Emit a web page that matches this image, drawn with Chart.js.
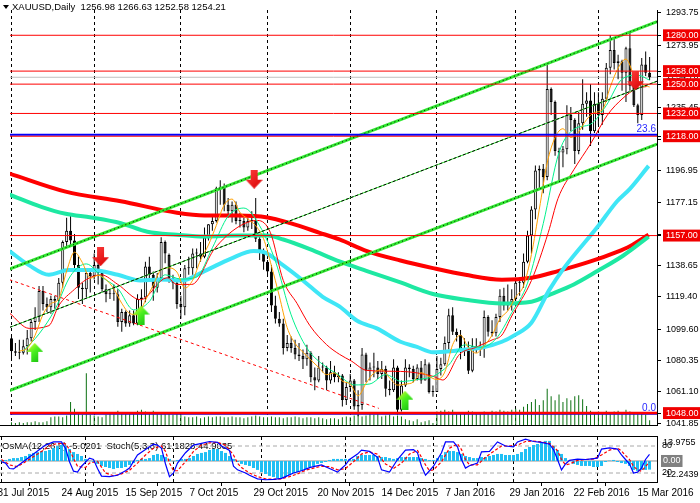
<!DOCTYPE html>
<html>
<head>
<meta charset="utf-8">
<script src="https://cdn.jsdelivr.net/npm/chart.js@4.4.1/dist/chart.umd.min.js"></script>
<style>
html, body { margin: 0; padding: 0; background: #fff; overflow: hidden; }
#wrap { position: relative; width: 700px; height: 503px; }
#main { position: absolute; left: 0; top: 0; }
#osc { position: absolute; left: 0; top: 435px; }
</style>
</head>
<body>
<div id="wrap">
  <canvas id="main" width="700" height="435"></canvas>
  <canvas id="osc" width="700" height="68"></canvas>
</div>
<script>
// --- Data (daily bars, index 0 = 3 Aug 2015) ---
const opens = [
  1094,1086,1085,1085,1089,1094,1104,1107,1123,1115, 1113,1118,1117,1128,1153,1160,1154,1139,1125,1124,
  1134,1132,1139,1134,1124,1121,1121,1121,1104,1110, 1103,1108,1103,1118,1119,1138,1133,1125,1131,1153,
  1145,1131,1128,1115,1113,1137,1137,1146,1146,1144, 1156,1164,1166,1186,1187,1176,1172,1176,1166,1166,
  1162,1166,1166,1155,1147,1141,1135,1114,1106,1103, 1088,1091,1088,1084,1083,1081,1085,1070,1068,1076,
  1076,1068,1073,1070,1071,1056,1064,1068,1052,1053, 1084,1074,1076,1076,1072,1075,1063,1062,1076,1050,
  1065,1076,1075,1069,1076,1068,1078,1061,1061,1075, 1078,1091,1108,1098,1096,1086,1087,1074,1089,1088,
  1089,1107,1098,1097,1107,1120,1114,1116,1118,1128, 1128,1141,1157,1173,1197,1198,1193,1247,1239,1209,
  1208,1210,1231,1228,1209,1226,1238,1240,1221,1238, 1231,1241,1260,1271,1263,1264,1257,1272,1249,1237,
  1231,1262,1256.98
];
const highs = [
  1095,1091,1093,1093,1099,1106,1113,1126,1126,1119, 1120,1120,1131,1154,1168,1170,1158,1144,1128,1136,
  1136,1146,1143,1135,1127,1124,1127,1124,1112,1111, 1111,1111,1121,1124,1141,1144,1135,1134,1156,1154,
  1146,1133,1129,1120,1139,1144,1149,1149,1153,1162, 1164,1170,1187,1191,1189,1180,1178,1178,1171,1168,
  1168,1172,1180,1157,1149,1142,1139,1120,1110,1106, 1096,1095,1093,1091,1087,1090,1086,1076,1083,1079,
  1077,1080,1077,1073,1072,1067,1072,1069,1062,1088, 1085,1079,1085,1080,1080,1077,1068,1081,1077,1068,
  1081,1078,1077,1078,1080,1081,1079,1065,1083,1082, 1095,1112,1113,1100,1099,1094,1092,1094,1094,1092,
  1111,1108,1105,1109,1124,1125,1127,1124,1131,1130, 1146,1160,1175,1200,1200,1201,1263,1248,1240,1211,
  1212,1237,1236,1229,1233,1253,1245,1250,1245,1245, 1245,1263,1280,1278,1268,1265,1273,1282,1250,1238,
  1266,1270,1266.63
];
const lows = [
  1080,1083,1081,1084,1084,1092,1099,1104,1111,1110, 1109,1112,1113,1125,1150,1151,1135,1118,1115,1119,
  1122,1130,1127,1122,1116,1118,1117,1101,1098,1101, 1101,1102,1102,1111,1116,1130,1117,1122,1130,1140,
  1128,1124,1112,1106,1108,1133,1133,1137,1141,1143, 1154,1160,1165,1176,1172,1168,1165,1164,1162,1159,
  1160,1161,1153,1142,1136,1132,1110,1103,1101,1084, 1086,1085,1081,1080,1075,1077,1067,1062,1067,1073,
  1062,1066,1067,1067,1052,1053,1061,1050,1046,1050, 1067,1068,1070,1069,1069,1058,1059,1061,1047,1049,
  1064,1070,1067,1068,1066,1068,1060,1058,1061,1071, 1077,1087,1096,1092,1081,1083,1072,1073,1085,1083,
  1082,1095,1095,1095,1104,1111,1111,1111,1117,1120, 1125,1140,1146,1167,1185,1183,1191,1231,1206,1191,
  1199,1207,1221,1201,1207,1222,1230,1212,1220,1225, 1225,1239,1256,1259,1253,1246,1239,1246,1236,1226,
  1228,1255,1252.58
];
const closes = [
  1086,1085,1085,1089,1094,1104,1107,1123,1115,1113, 1118,1117,1128,1153,1160,1154,1139,1125,1124,1134,
  1132,1139,1134,1124,1121,1121,1121,1104,1110,1103, 1108,1103,1118,1119,1138,1133,1125,1131,1153,1146,
  1131,1128,1115,1113,1137,1137,1146,1146,1144,1156, 1164,1166,1186,1187,1176,1172,1176,1166,1166,1162,
  1166,1166,1155,1147,1141,1135,1114,1106,1103,1088, 1091,1088,1084,1083,1081,1085,1070,1068,1076,1076,
  1068,1073,1070,1071,1056,1064,1068,1052,1053,1084, 1074,1076,1076,1072,1075,1063,1062,1076,1050,1065,
  1076,1075,1069,1076,1068,1078,1061,1061,1075,1078, 1091,1108,1098,1096,1086,1087,1074,1089,1088,1089,
  1107,1098,1097,1107,1120,1114,1116,1118,1128,1128, 1141,1157,1173,1197,1198,1193,1247,1239,1209,1208,
  1210,1231,1228,1209,1226,1238,1240,1221,1238,1231, 1241,1260,1271,1263,1264,1257,1272,1249,1237,1231,
  1262,1257,1254.21
];
const volumes = [
  3,2,3,2,3,3,4,3,3,4, 8,9,9,8,10, 24,17,13,11,54,11,10,9,8,11,
  13,12,15,12,12,13,12,15,16,14, 12,15,13,13,12,12,11,12,13,9,
  8,8,9,7,8,9,8,9,9,8,8,9,8,8,7,8,9,10,9,8,
  8,9,8,8,7,8,8,9,8,7,8,8,7,8,7,6,7,7,6,8,9,8,
  10,11,9,10,12,11,12,9,10,11,9, 10,9,6,5,4,6,3,4,5,2,
  14,15,16,14,16,13,12,13,15,14,12,13,14,13,15,14,16,15,14,16,
  17,16,19,22,24,27,21,26, 38, 30,26,32,24,28, 26,30,31,27, 20,15,12,
  14,13,15,12,14,15,13,16,14,13,12,12,11,5
];
const osma = [
  0.6,0.6,1.2,1.7,1.7,2.3,2.9,4.1,4.7,5.2, 5.8,5.8,6.4,7.6,8.7,9.3,8.7,7.0,5.2,4.1,
  2.9,1.2,0.2,-0.6,-1.7,-2.9,-3.5,-4.1,-4.7,-4.1, -4.1,-3.5,-2.3,-1.2,0.6,1.2,1.2,1.7,3.5,4.1,
  3.5,2.3,1.2,-0.2,0.6,1.2,1.2,1.7,2.9,4.1, 4.7,5.2,6.4,7.0,7.0,5.8,4.7,2.9,1.2,-0.6,
  -1.7,-2.3,-2.9,-4.1,-5.2,-6.4,-7.6,-8.7,-9.3,-9.9, -9.9,-9.3,-8.2,-7.0,-6.4,-5.8,-4.7,-3.5,-2.9,-1.7,
  -1.2,-0.6,0.6,1.2,1.2,1.2,1.2,1.2,1.2,2.9, 3.5,3.5,3.5,3.5,2.9,2.3,2.3,1.7,1.2,1.7,
  2.3,2.3,2.3,2.3,2.3,1.7,1.2,0.6,0.6,1.7, 3.5,5.2,5.8,5.8,5.2,4.1,2.9,2.3,1.7,1.7,
  2.3,2.3,2.9,3.5,4.1,4.1,3.5,3.5,3.5,4.1, 5.2,7.0,8.2,9.3,9.9,10.5,11.7,11.7,8.7,6.4,
  4.1,1.7,0.2,-1.7,-2.3,-2.9,-2.9,-2.9,-3.5,-3.5, -2.9,-0.6,0.2,0.6,-0.6,-1.2,-1.7,-2.9,-5.2,-5.8,
  -5.2,-5.2,-5.0201
];

// stochastic main / signal as [bar index, value]
const stochMain = [
  [0,45],[1,42],[2,30],[3,29],[5,42],[8,62],[11,82],[13,89],[15,89],[16,75],[17,45],[18,24],[19,22],[20,35],
  [22,53],[23,50],[24,30],[25,13],[27,12],[29,15],[31,25],[32,31],[34,60],[36,72],[38,84],[39,82],[40,75],
  [41,40],[42,12],[43,20],[44,42],[46,65],[48,82],[50,86],[52,90],[54,88],[55,80],[57,70],[58,35],[59,27],
  [61,20],[62,15],[64,7],[66,5],[68,6],[70,8],[71,12],[73,20],[75,25],[77,32],[78,34],[80,38],[82,30],
  [84,22],[85,30],[86,38],[87,50],[89,62],[90,71],[92,68],[94,55],[95,27],[97,22],[99,50],[101,71],[103,72],
  [104,65],[105,35],[106,15],[107,25],[108,35],[110,65],[111,89],[113,89],[114,78],[115,50],[116,31],
  [117,36],[119,42],[120,67],[122,68],[124,89],[126,80],[128,78],[129,89],[131,95],[133,90],[135,88],
  [137,84],[138,72],[139,50],[140,27],[141,40],[142,48],[144,51],[146,50],[147,51],[149,53],[150,73],
  [152,76],[154,73],[155,60],[156,50],[157,40],[158,20],[159,22],[160,31],[161,50],[162,61.1828]
];
const stochSignal = [
  [0,50],[2,38],[4,34],[6,45],[9,62],[12,80],[14,86],[16,85],[17,72],[18,52],[19,35],[21,32],[22,42],
  [24,46],[25,33],[26,20],[28,14],[30,18],[32,26],[34,42],[36,60],[38,75],[40,80],[41,68],[42,42],[43,25],
  [44,25],[46,45],[48,68],[50,82],[52,87],[54,88],[56,82],[58,60],[59,42],[60,32],[62,20],[64,12],[66,7],
  [68,6],[70,7],[72,12],[74,18],[76,26],[78,31],[80,35],[82,34],[84,27],[86,30],[88,45],[90,62],[92,67],
  [94,62],[96,40],[98,30],[100,42],[102,62],[104,70],[105,55],[106,38],[107,25],[108,27],[110,45],[112,75],
  [114,85],[115,72],[116,50],[117,38],[119,38],[121,55],[123,68],[125,80],[127,80],[129,82],[131,90],
  [133,91],[135,89],[137,86],[139,70],[140,50],[141,38],[142,40],[144,48],[146,50],[148,51],[150,60],
  [152,71],[154,75],[155,69],[156,59],[157,50],[158,35],[159,27],[160,24],[161,34],[162,44.9035]
];

// moving averages as [bar index, price]
const maRed = [
  [-0.5,1195.1],[13.75,1184.0],[27.75,1178.1],[42,1171.0],[49,1169.3],[57.5,1169.3],[65,1168.1],[70.75,1164.6],
  [78.25,1158.7],[83.25,1154.6],[90.25,1147.5],[98.75,1141.7],[107,1137.0],[115.25,1132.9],[124.5,1129.9],
  [132,1131.1],[138.75,1135.2],[147,1141.1],[153.75,1147.0],[157,1150.5],[161.75,1157.5]
];
const maSpring = [
  [-0.5,1182.2],[7.75,1174.5],[13.75,1170.4],[20.25,1168.1],[27.75,1164.6],[34.5,1159.3],[42,1157.5],[49,1156.4],
  [57.5,1157.0],[65,1157.0],[69,1154.6],[75.75,1148.7],[83.25,1141.1],[90.25,1135.2],[98.75,1128.2],[107,1121.1],
  [115.25,1117.6],[124.5,1115.3],[132,1116.4],[137,1121.1],[142.75,1127.0],[148.75,1135.2],[155.25,1144.6],
  [161.75,1156.3]
];
const maCyan = [
  [-0.5,1147.5],[4.5,1138.7],[9.5,1132.9],[14.5,1135.8],[20.25,1135.8],[27,1132.9],[32.75,1129.4],[37.75,1130.0],
  [43.25,1129.4],[49,1135.2],[55.75,1142.9],[61.5,1147.5],[64,1146.9],[69,1138.7],[74,1129.4],[79,1119.4],
  [83.25,1113.5],[87.75,1104.7],[92.75,1100.0],[98.75,1091.8],[102.75,1088.8],[107,1085.3],[111.25,1085.9],
  [115.25,1087.1],[119.5,1088.2],[124.5,1091.8],[127.75,1095.9],[132,1103.5],[136.5,1123.5],[140.25,1137.0],
  [148.75,1162.2],[153.75,1178.1],[157,1185.7],[161.75,1199.8]
];
const maThinRed = [
  [-0.5,1109.4],[4.5,1100.0],[9.5,1101.7],[12,1114],[16,1124],[19,1130],[22.75,1132.9],[27,1127.0],
  [32.75,1117.6],[39.5,1131.1],[42,1127.0],[45.75,1127.0],[51.5,1148.7],[57.5,1162.2],[62.5,1166.3],
  [65.75,1158.7],[69,1129.4],[72.5,1115.3],[75.75,1101.7],[80,1090.0],[83.25,1084.1],[86.25,1080.0],
  [90.25,1074.2],[98.75,1073.6],[107,1070.6],[109.5,1068.3],[113.75,1084.1],[117.75,1088.2],[122,1092.9],
  [124.5,1095.9],[127,1107.6],[132,1129.4],[136.25,1158.7],[138.75,1179.8],[142.75,1197.4],[147,1213.3],
  [151.25,1230.9],[155.25,1241.4],[158.75,1247.4],[161.25,1248.5]
];
const maThinGreen = [
  [3,1086],[7,1096.6],[11,1111.4],[15,1132.3],[19,1139.6],[23,1131.4],[27,1124.5],[31,1111.4],[35,1116.5],
  [39,1132.9],[43,1130.3],[47,1131.6],[51,1149.5],[55,1168.9],[59,1173.9],[63,1163],[67,1141.3],[71,1108.3],
  [75,1087.9],[79,1077.9],[83,1071.5],[87,1065.3],[91,1065.9],[95,1071.6],[99,1067.4],[103,1068.6],
  [107,1070.5],[111,1077.5],[115,1089.9],[119,1088.4],[123,1093.6],[127,1109.6],[131,1127.8],[135,1164.4],
  [139,1208],[143,1222.6],[147,1225.4],[151,1236.9],[155,1253.1],[159,1255.5],[162,1252.4]
];
const maOrange = [
  [2,1086],[4,1087.8],[6,1095.8],[8,1108.6],[10,1115.2],[12,1118.2],[14,1135.2],[16,1146.8],[18,1140.4],
  [20,1130.8],[22,1132.6],[24,1130],[26,1124.2],[28,1115.4],[30,1109.2],[32,1108.4],[34,1117.2],[36,1126.6],
  [38,1136],[40,1137.2],[42,1134.6],[44,1124.8],[46,1129.6],[48,1142],[50,1151.2],[52,1163.2],[54,1175.8],
  [56,1179.4],[58,1171.2],[60,1167.2],[62,1163],[64,1155],[66,1138.4],[68,1119.8],[70,1100.4],[72,1090.8],
  [74,1085.4],[76,1080.6],[78,1076],[80,1071.6],[82,1072.6],[84,1067.6],[86,1065.8],[88,1058.6],[90,1066.2],
  [92,1072.6],[94,1074.6],[96,1069.6],[98,1065.2],[100,1065.8],[102,1067],[104,1072.8],[106,1070.4],
  [108,1068.6],[110,1073.2],[112,1090],[114,1095.8],[116,1088.2],[118,1084.8],[120,1089.4],[122,1095.8],
  [124,1105.8],[126,1110.8],[128,1119.2],[130,1126.2],[132,1145.4],[134,1173.2],[136,1201.6],[138,1217.2],
  [140,1222.6],[142,1217.2],[144,1220.8],[146,1228.2],[148,1232.6],[150,1234.2],[152,1248.2],[154,1259.8],
  [156,1265.4],[158,1255.8],[160,1250.2],[162,1248.2]
];

// drawn objects
const trendUpper = [[-0.5,1136.4],[163.9,1288.4]];
const trendLower = [[-0.5,1061.8],[163.9,1213.1]];
const trendMid = [[-0.5,1100.6],[163.9,1251.8]];
const trendDown = [[-0.5,1129.9],[93.25,1050.9]];
const levelPrices = [1280, 1258, 1250, 1232, 1218, 1157, 1048];
const currentPrice = 1254.21;
const fiboPrices = [1218.9, 1047.4];
const fiboLabels = ['23.6', '0.0'];
const redArrows = [[22.6,1144.0],[61.6,1191.6],[158.4,1252.1]];
const greenArrows = [[5.9,1085.3],[32.9,1108.2],[99.9,1055.9]];

// axes
const priceTicks = [1293.75,1273.95,1254.70,1235.45,1216.20,1196.95,1177.15,1157.90,1138.65,1119.40,1099.60,1080.35,1061.10,1041.85];
const monthStartIdx = [0, 21, 43, 65, 86, 108, 128, 149];
const dateTickIdx = [-1, 15, 31, 47, 63, 79, 95, 111, 127, 143, 159];
const dateTickLabels = ['31 Jul 2015','24 Aug 2015','15 Sep 2015','7 Oct 2015','29 Oct 2015','20 Nov 2015',
  '14 Dec 2015','7 Jan 2016','29 Jan 2016','22 Feb 2016','15 Mar 2016'];
const osmaMax = 13.9755, osmaMin = -12.2439;
const stochLevels = [80, 20];

// --- Config ---
const FONT = "'Liberation Sans', Arial, sans-serif";
const FS = 9;
const X_MIN = -0.375, X_MAX = 163.875;
Chart.defaults.font.family = FONT;
Chart.defaults.font.size = FS;
Chart.defaults.color = '#000';

const pts = arr => arr.map(([x, y]) => ({ x, y }));
const hline = p => [{ x: X_MIN, y: p }, { x: X_MAX, y: p }];
const lineDs = (data, color, width, order, extra = {}) => ({
    type: 'line', data, borderColor: color, borderWidth: width, pointRadius: 0,
    cubicInterpolationMode: 'monotone', order, ...extra
});

function arrowImage(up) {
    const c = document.createElement('canvas');
    c.width = 17; c.height = 19;
    const g = c.getContext('2d');
    g.beginPath();
    if (up) {
        g.moveTo(8.5, 0); g.lineTo(17, 9); g.lineTo(12, 9); g.lineTo(12, 19);
        g.lineTo(5, 19); g.lineTo(5, 9); g.lineTo(0, 9);
        const gr = g.createLinearGradient(0, 0, 17, 19);
        gr.addColorStop(0, '#f0ff30'); gr.addColorStop(0.45, '#4cf020'); gr.addColorStop(1, '#10b810');
        g.fillStyle = gr;
    } else {
        g.moveTo(5, 0); g.lineTo(12, 0); g.lineTo(12, 10); g.lineTo(17, 10);
        g.lineTo(8.5, 19); g.lineTo(0, 10); g.lineTo(5, 10);
        const gr = g.createLinearGradient(0, 0, 17, 19);
        gr.addColorStop(0, '#ff4040'); gr.addColorStop(1, '#d80000');
        g.fillStyle = gr;
    }
    g.closePath();
    g.fill();
    return c;
}

// --- Plugins ---
const separators = {
    id: 'separators',
    beforeDatasetsDraw(chart) {
        const { ctx, chartArea: a, scales: { x } } = chart;
        ctx.save();
        ctx.strokeStyle = '#000'; ctx.lineWidth = 1; ctx.setLineDash([3, 3]);
        monthStartIdx.forEach(i => {
            const px = Math.floor(x.getPixelForValue(i)) + 0.5;
            ctx.beginPath(); ctx.moveTo(px, a.top); ctx.lineTo(px, a.bottom); ctx.stroke();
        });
        ctx.restore();
    }
};

const mainText = {
    id: 'mainText',
    afterDatasetsDraw(chart) {
        const { ctx, chartArea: a, scales: { y } } = chart;
        ctx.save();
        // bottom frame of the price window
        ctx.fillStyle = '#000';
        ctx.fillRect(0, a.bottom, a.right + 1, 1);
        // title
        ctx.beginPath(); ctx.moveTo(3, 5); ctx.lineTo(9, 5); ctx.lineTo(6, 9); ctx.closePath(); ctx.fill();
        const n = closes.length - 1;
        ctx.font = `${FS + 0.5}px ${FONT}`;
        ctx.textBaseline = 'middle'; ctx.textAlign = 'left';
        ctx.fillText(`XAUUSD,Daily  ${opens[n].toFixed(2)} ${highs[n].toFixed(2)} ${lows[n].toFixed(2)} ${closes[n].toFixed(2)}`, 12, 7);
        // fibo level captions
        ctx.fillStyle = '#2828ff'; ctx.textAlign = 'right'; ctx.font = `${FS + 1}px ${FONT}`;
        fiboPrices.forEach((p, k) => ctx.fillText(fiboLabels[k], a.right - 1, y.getPixelForValue(p) - 6));
        ctx.restore();
    }
};

const oscText = {
    id: 'oscText',
    beforeDatasetsDraw(chart) {
        const { ctx, chartArea: a } = chart;
        ctx.save();
        ctx.font = `${FS + 0.5}px ${FONT}`;
        ctx.fillStyle = '#000'; ctx.textBaseline = 'middle'; ctx.textAlign = 'left';
        const sm = stochMain[stochMain.length - 1][1], ss = stochSignal[stochSignal.length - 1][1];
        ctx.fillText(`OsMA(12,26,9) ${osma[osma.length - 1].toFixed(4)}  Stoch(5,3,3) ${sm.toFixed(4)} ${ss.toFixed(4)}`, a.left + 2, a.top + 9);
        ctx.restore();
    },
    afterDraw(chart) {
        const { ctx, chartArea: a, scales: { yo, ys } } = chart;
        ctx.save();
        ctx.fillStyle = '#000';
        ctx.fillRect(0, a.top - 1, a.right + 1, 1);
        ctx.font = `${FS}px ${FONT}`;
        ctx.textBaseline = 'middle'; ctx.textAlign = 'left';
        const lx = a.right + 6;
        stochLevels.forEach(v => ctx.fillText(String(v), lx - 1, ys.getPixelForValue(v)));
        ctx.fillText(osmaMax.toFixed(4), lx, yo.getPixelForValue(osmaMax) + 6);
        ctx.fillText(osmaMin.toFixed(4), lx, yo.getPixelForValue(osmaMin) - 7);
        const y0 = yo.getPixelForValue(0);
        const w = ctx.measureText('0.00').width;
        ctx.fillStyle = '#808080';
        ctx.fillRect(lx - 2, y0 - 6, w + 4, 12);
        ctx.fillStyle = '#fff';
        ctx.fillText('0.00', lx, y0);
        ctx.restore();
    }
};

// --- Main price window ---
const idx = closes.map((_, i) => i);
const isLevelTick = c => c.index >= priceTicks.length;

new Chart(document.getElementById('main'), {
    type: 'bar',
    data: {
        datasets: [
            { type: 'bar', data: idx.map(i => ({ x: i, y: volumes[i] })), yAxisID: 'yv', backgroundColor: '#0a7010',
              barThickness: 1, grouped: false, inflateAmount: 0, order: 100 },
            lineDs(hline(currentPrice), '#c0c0c0', 1, 95),
            { type: 'bar', data: idx.map(i => ({ x: i, y: [lows[i], highs[i]] })), backgroundColor: '#000',
              barThickness: 1, grouped: false, inflateAmount: 0, order: 90 },
            { type: 'bar', data: idx.map(i => ({ x: i, y: [opens[i], closes[i]] })),
              backgroundColor: idx.map(i => closes[i] >= opens[i] ? '#ffffff' : '#000000'),
              borderColor: '#000', borderWidth: 1, borderSkipped: false, minBarLength: 1,
              barThickness: 3, grouped: false, inflateAmount: 0, order: 89 },
            lineDs(pts(maRed), '#ff0000', 4, 81),
            lineDs(pts(maSpring), '#1ee8a2', 4, 80),
            lineDs(pts(maCyan), '#3fe6f6', 4, 79),
            lineDs(pts(maThinRed), '#ff0000', 1, 70),
            lineDs(pts(maThinGreen), '#00f08c', 1, 69),
            lineDs(pts(maOrange), '#ffa000', 1, 68),
            lineDs(pts(trendUpper), '#30e830', 3, 60),
            lineDs(pts(trendLower), '#30e830', 3, 60),
            lineDs(pts(trendUpper), '#000', 1, 59, { borderDash: [1, 3] }),
            lineDs(pts(trendLower), '#000', 1, 59, { borderDash: [1, 3] }),
            lineDs(pts(trendMid), '#30e830', 1, 59),
            lineDs(pts(trendMid), '#000', 1, 58, { borderDash: [3, 2] }),
            lineDs(pts(trendDown), '#ff0000', 1, 57, { borderDash: [3, 3] }),
            ...fiboPrices.map((p, k) => lineDs(hline(p), '#0000ff', k === 0 ? 2 : 1.5, 52)),
            ...levelPrices.map(p => lineDs(hline(p), '#ff0000', p === 1048 ? 2.5 : 1, 50)),
            { type: 'line', data: pts(redArrows), showLine: false, pointStyle: arrowImage(false), pointRadius: 9, order: 1 },
            { type: 'line', data: pts(greenArrows), showLine: false, pointStyle: arrowImage(true), pointRadius: 9, order: 0 }
        ]
    },
    options: {
        responsive: false, animation: false, events: [],
        layout: { padding: { top: 0, left: 0, right: 0, bottom: 1 } },
        plugins: { legend: { display: false }, tooltip: { enabled: false } },
        scales: {
            x: { type: 'linear', min: X_MIN, max: X_MAX, offset: false, bounds: 'data', display: false },
            y: {
                type: 'linear', position: 'right', min: 1040.68, max: 1295.52, bounds: 'data',
                border: { display: true, color: '#000' },
                grid: { drawOnChartArea: false, drawTicks: true, tickLength: 4, color: '#000' },
                afterBuildTicks: s => { s.ticks = [...priceTicks, ...levelPrices].map(v => ({ value: v })); },
                afterFit: s => { s.width = 43; s.paddingTop = 0; s.paddingBottom = 0; },
                ticks: {
                    autoSkip: false, padding: 5, font: { size: FS, lineHeight: 1.1 },
                    callback: v => v.toFixed(2),
                    color: c => isLevelTick(c) ? '#fff' : '#000',
                    showLabelBackdrop: c => isLevelTick(c),
                    backdropColor: '#f00000',
                    backdropPadding: { top: 1, bottom: 1, left: 3, right: 4 }
                }
            },
            yv: { type: 'linear', min: 0, max: 434, display: false }
        }
    },
    plugins: [separators, mainText]
});

// --- Oscillator window ---
new Chart(document.getElementById('osc'), {
    type: 'bar',
    data: {
        datasets: [
            lineDs(hline(0), '#909090', 1, 60, { yAxisID: 'yo' }),
            ...stochLevels.map(v => lineDs(hline(v), '#a8a8a8', 1, 59, { yAxisID: 'ys', borderDash: [4, 3] })),
            { type: 'bar', data: idx.map(i => ({ x: i, y: osma[i] })), yAxisID: 'yo', backgroundColor: '#1fbff4',
              barThickness: 3, grouped: false, inflateAmount: 0, order: 50 },
            lineDs(pts(stochSignal), '#ff0000', 1.2, 41, { yAxisID: 'ys', borderDash: [3, 2], cubicInterpolationMode: 'default', tension: 0 }),
            lineDs(pts(stochMain), '#0000ff', 1.2, 40, { yAxisID: 'ys', cubicInterpolationMode: 'default', tension: 0 })
        ]
    },
    options: {
        responsive: false, animation: false, events: [],
        layout: { padding: { top: 2, left: 0, right: 0, bottom: 0 } },
        plugins: { legend: { display: false }, tooltip: { enabled: false } },
        scales: {
            x: {
                type: 'linear', min: X_MIN, max: X_MAX, offset: false, bounds: 'data', position: 'bottom',
                border: { display: true, color: '#000' },
                grid: { drawOnChartArea: false, drawTicks: true, tickLength: 4, color: '#000' },
                afterBuildTicks: s => { s.ticks = dateTickIdx.map(v => ({ value: v })); },
                afterFit: s => { s.height = 21; s.paddingLeft = 0; s.paddingRight = 0; },
                ticks: {
                    autoSkip: false, maxRotation: 0, minRotation: 0, align: 'start', padding: 1,
                    font: { size: FS + 1 },
                    callback: v => dateTickLabels[dateTickIdx.indexOf(v)]
                }
            },
            yo: {
                type: 'linear', position: 'right', min: osmaMin, max: osmaMax, bounds: 'data',
                border: { display: true, color: '#000' },
                grid: { display: false },
                ticks: { display: false },
                afterFit: s => { s.width = 43; s.paddingTop = 0; s.paddingBottom = 0; }
            },
            ys: { type: 'linear', min: 0, max: 100, display: false }
        }
    },
    plugins: [separators, oscText]
});
</script>
</body>
</html>
